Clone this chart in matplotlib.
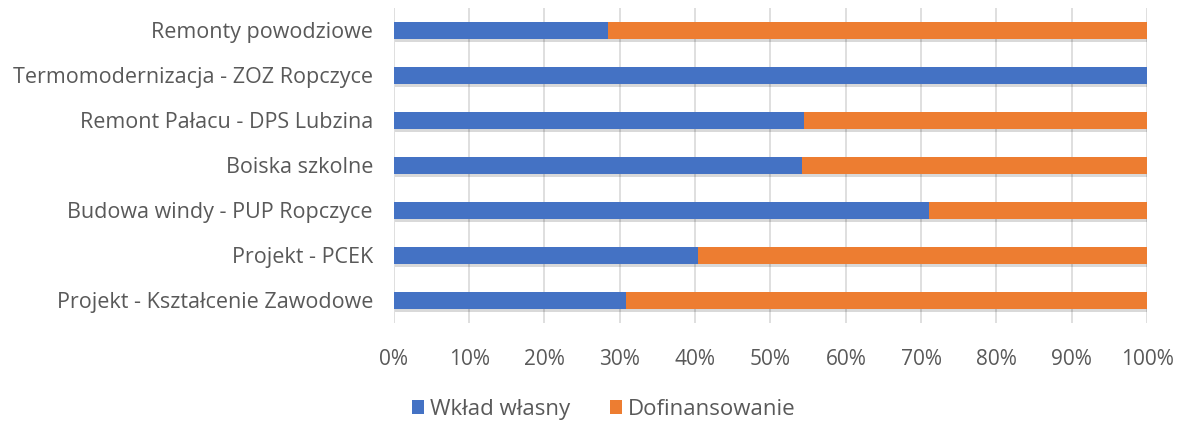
import matplotlib.pyplot as plt
import matplotlib.patheffects as pe
from matplotlib.ticker import PercentFormatter

categories = ['Remonty powodziowe', 'Termomodernizacja - ZOZ Ropczyce',
              'Remont Pałacu - DPS Lubzina', 'Boiska szkolne',
              'Budowa windy - PUP Ropczyce', 'Projekt - PCEK',
              'Projekt - Kształcenie Zawodowe']
wklad = [28.5, 100.0, 54.4, 54.2, 71.0, 40.4, 30.8]
dofin = [100 - v for v in wklad]

plt.rcParams['font.family'] = ['Open Sans', 'DejaVu Sans']
text_col = '#595959'

fig = plt.figure(figsize=(11.79, 4.21), dpi=100)
ax = fig.add_axes([0.334, 0.233, 0.639, 0.748])

y = list(range(len(categories)))
shadow = [pe.SimplePatchShadow(offset=(1, -2), shadow_rgbFace='#000000', alpha=0.15), pe.Normal()]
b1 = ax.barh(y, wklad, height=0.39, color='#4472C4', label='Wkład własny', zorder=3)
b2 = ax.barh(y, dofin, left=wklad, height=0.39, color='#ED7D31', label='Dofinansowanie', zorder=3)
for b in list(b1) + list(b2):
    b.set_path_effects(shadow)

ax.set_xlim(0, 100)
ax.set_ylim(len(categories) - 0.5, -0.5)
ax.set_yticks(y)
ax.set_yticklabels(categories)
ax.set_xticks(range(0, 101, 10))
ax.xaxis.set_major_formatter(PercentFormatter(decimals=0))
ax.grid(axis='x', color='#D9D9D9', linewidth=1.2, zorder=0)
for s in ax.spines.values():
    s.set_visible(False)
ax.tick_params(length=0, colors=text_col)
ax.tick_params(axis='y', labelsize=15.5, pad=15)
ax.tick_params(axis='x', labelsize=15, pad=19)

leg = fig.legend(handles=[b1, b2], loc='center', bbox_to_anchor=(0.512, 0.027),
                 ncol=2, frameon=False, fontsize=16, handlelength=0.55, handleheight=0.6,
                 columnspacing=1.8, handletextpad=0.27, borderpad=0)
for t in leg.get_texts():
    t.set_color(text_col)
for h in leg.legend_handles:
    h.set_path_effects([])

fig.savefig('out.png', dpi=100)
